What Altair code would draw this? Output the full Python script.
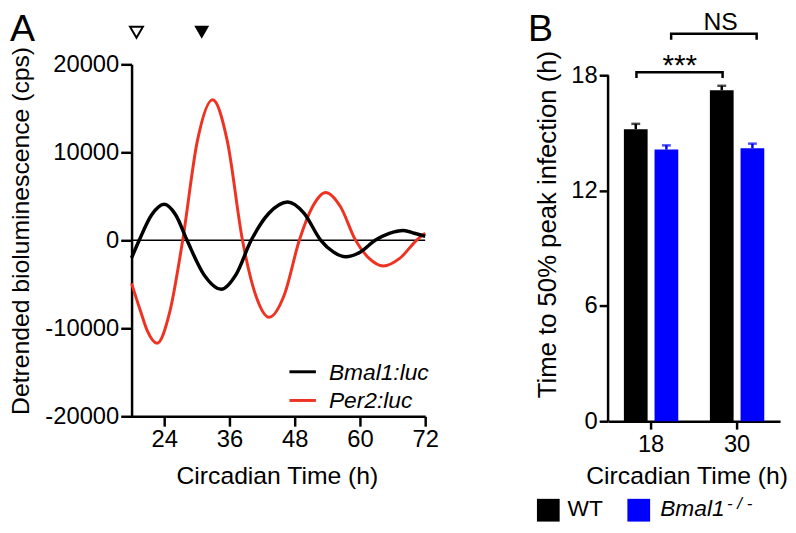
import altair as alt
import pandas as pd

FONT = "Liberation Sans"
RED = "#ee3322"
BLUE = "#0000ff"

# ---------------- Panel A data ----------------
bmal_t = [18.0, 19.4, 21.7, 24.0, 26.1, 28.2, 31.3, 34.5, 37.2, 40.0, 43.3, 46.7,
          49.7, 52.8, 55.1, 57.4, 60.1, 62.8, 65.4, 68.0, 70.0, 72.0]
bmal_v = [-2000, 0, 2900, 4100, 2900, 0, -3900, -5560, -3900, 0, 3100, 4360,
          3100, 0, -1320, -1870, -1320, 0, 790, 1120, 800, 450]

per_t = [18.0, 19.7, 20.9, 22.7, 25.0, 27.4, 30.1, 32.9, 35.6, 38.4, 40.8, 43.3,
         46.1, 48.85, 51.3, 53.7, 56.4, 59.2, 61.7, 64.3, 67.3, 70.4, 72.0]
per_v = [-4900, -8150, -10300, -11700, -8200, 0, 11300, 15980, 11300, 0, -6190, -8750,
         -6190, 0, 3840, 5430, 3840, 0, -2060, -2920, -2060, 0, 820]

a_xticks = [24, 36, 48, 60, 72]
a_yticks = [-20000, -10000, 0, 10000, 20000]
marker_t = [18.9, 30.9]          # open / filled arrowheads
series_names = ["Bmal1:luc", "Per2:luc"]

# ---------------- Panel B data ----------------
ct_groups = ["18", "30"]
genotypes = ["WT", "Bmal1"]
bar_ct = ["18", "18", "30", "30"]
bar_geno = ["WT", "Bmal1", "WT", "Bmal1"]
bar_mean = [15.19, 14.13, 17.22, 14.20]
bar_sem = [0.28, 0.22, 0.23, 0.24]
b_yticks = [0, 6, 12, 18]

# ---------------- Panel A ----------------
AX = alt.Scale(domain=[18, 72], nice=False, zero=False)
AY = alt.Scale(domain=[-20000, 20000], nice=False, zero=False)

x_axis_A = alt.Axis(values=a_xticks, title="Circadian Time (h)", tickSize=10, labelPadding=2,
                    titleX=147, titleY=48.5, labelFontSize=24, titleFontSize=25)
y_axis_A = alt.Axis(values=a_yticks, title=None, tickSize=11,
                    labelPadding=2, labelExpr="'' + datum.value", labelFontSize=24)


def ax(field):
    return alt.X(field, type="quantitative", scale=AX, axis=x_axis_A)


def ay(field):
    return alt.Y(field, type="quantitative", scale=AY, axis=y_axis_A)


df_b = pd.DataFrame({"t": bmal_t, "v": bmal_v})
df_p = pd.DataFrame({"t": per_t, "v": per_v})

zero_line = alt.Chart(pd.DataFrame({"z": [0]})).mark_rule(color="black", strokeWidth=1.5).encode(
    y=ay("z"))

per_line = alt.Chart(df_p).mark_line(color=RED, strokeWidth=3, interpolate="monotone").encode(
    x=ax("t"), y=ay("v"))
bmal_line = alt.Chart(df_b).mark_line(color="black", strokeWidth=3.5, interpolate="monotone").encode(
    x=ax("t"), y=ay("v"))

tri_df = pd.DataFrame({"t": marker_t, "v": [23650, 23650], "kind": ["open", "filled"]})
tri_open = alt.Chart(tri_df).transform_filter("datum.kind == 'open'").mark_point(
    shape="triangle-down", size=170, filled=False, color="black", strokeWidth=2, opacity=1).encode(
    x=ax("t"), y=ay("v"))
tri_fill = alt.Chart(tri_df).transform_filter("datum.kind == 'filled'").mark_point(
    shape="triangle-down", size=225, filled=True, color="black", opacity=1).encode(
    x=ax("t"), y=ay("v"))

leg_df = pd.DataFrame({"name": series_names, "x1": [47.04, 47.04], "x2": [51.9, 51.9],
                       "y": [-14944, -18202], "tx": [54.3, 54.3], "ty": [-15921, -19101]})
leg_line_b = alt.Chart(leg_df).transform_filter("datum.name == 'Bmal1:luc'").mark_rule(
    strokeWidth=3, color="black").encode(x=ax("x1"), x2="x2:Q", y=ay("y"))
leg_line_p = alt.Chart(leg_df).transform_filter("datum.name == 'Per2:luc'").mark_rule(
    strokeWidth=3, color=RED).encode(x=ax("x1"), x2="x2:Q", y=ay("y"))
leg_text = alt.Chart(leg_df).mark_text(align="left", baseline="alphabetic", fontSize=23,
                                       fontStyle="italic", font=FONT, color="black").encode(
    x=ax("tx"), y=ay("ty"), text="name:N")

a_label = alt.Chart(pd.DataFrame({"t": [-4.36], "v": [22697], "s": ["A"]})).mark_text(
    align="left", baseline="alphabetic", fontSize=38, font=FONT, color="black").encode(
    x=ax("t"), y=ay("v"), text="s:N")

a_ytitle = alt.Chart(pd.DataFrame({"t": [-0.91], "v": [1067],
                                   "s": ["Detrended bioluminescence (cps)"]})).mark_text(
    angle=270, align="center", baseline="alphabetic", fontSize=25, font=FONT, color="black").encode(
    x=ax("t"), y=ay("v"), text="s:N")

a_anchor = alt.Chart(pd.DataFrame({"t": [40], "v": [26180]})).mark_point(
    size=1, opacity=0, strokeWidth=0).encode(x=ax("t"), y=ay("v"))

panelA = alt.layer(zero_line, per_line, bmal_line, tri_open, tri_fill, leg_line_b, leg_line_p,
                   leg_text, a_label, a_ytitle, a_anchor).properties(width=297, height=356)

# ---------------- Panel B ----------------
# plot area runs 11 px higher than the 18 h tick so that it can share the row top with panel A
BY = alt.Scale(domain=[0, 18 * 361 / 350], nice=False, zero=False)
QX = alt.Scale(domain=[12, 36], nice=False, zero=False)   # 18 and 30 at band centres
y_axis_B = alt.Axis(values=b_yticks, title=None, tickSize=9, labelPadding=2, labelFontSize=24,
                    domain=False)


def by(field):
    return alt.Y(field, type="quantitative", scale=BY, axis=y_axis_B)


def qx(field):
    return alt.X(field, type="quantitative", scale=QX, axis=None)


df_bar = pd.DataFrame({"ct": bar_ct, "geno": bar_geno, "mean": bar_mean, "sem": bar_sem})
xB = alt.X("ct:N", scale=alt.Scale(domain=ct_groups, paddingInner=0, paddingOuter=0),
           axis=alt.Axis(title="Circadian Time (h)", labelAngle=0, tickSize=8, labelPadding=4,
                         titleX=79.5, titleY=42.8, labelFontSize=24, titleFontSize=25))
xoffB = alt.XOffset("geno:N", scale=alt.Scale(domain=genotypes, paddingInner=0.226, paddingOuter=0.516))
colB = alt.Color("geno:N", scale=alt.Scale(domain=genotypes, range=["black", BLUE]), legend=None)

bars = alt.Chart(df_bar).mark_bar().encode(x=xB, xOffset=xoffB, y=by("mean"), color=colB)
err = alt.Chart(df_bar).transform_calculate(up="datum.mean + datum.sem").mark_rule(strokeWidth=2.5).encode(
    x=xB, xOffset=xoffB, y=by("mean"), y2="up:Q", color=colB)
caps = alt.Chart(df_bar).transform_calculate(up="datum.mean + datum.sem").mark_tick(
    size=9, thickness=2.5, orient="horizontal").encode(
    x=xB, xOffset=xoffB, y=by("up"), color=colB)

bars_layer = alt.layer(bars, err, caps)

# y axis line of panel B (0 to 18 only)
b_axis_line = alt.Chart(pd.DataFrame({"x": [12], "y0": [0], "y1": [18]})).mark_rule(
    color="black", strokeWidth=2.5).encode(x=qx("x"), y=by("y0"), y2="y1:Q")

br_df = pd.DataFrame({
    "b": ["s"] * 4 + ["n"] * 4,
    "o": [0, 1, 2, 3, 0, 1, 2, 3],
    "x": [15.96, 15.96, 27.98, 27.98, 20.8, 20.8, 32.73, 32.73],
    "y": [17.85, 18.15, 18.15, 17.85, 19.85, 20.16, 20.16, 19.85]})
brackets = alt.Chart(br_df).mark_line(color="black", strokeWidth=2.5, strokeJoin="miter").encode(
    x=qx("x"), y=by("y"), detail="b:N", order="o:Q")

stars = alt.Chart(pd.DataFrame({"x": [22.0], "y": [17.99], "s": ["***"]})).mark_text(
    align="center", baseline="alphabetic", fontSize=30, font=FONT, color="black").encode(
    x=qx("x"), y=by("y"), text="s:N")
ns = alt.Chart(pd.DataFrame({"x": [27.7], "y": [20.36], "s": ["NS"]})).mark_text(
    align="center", baseline="alphabetic", fontSize=25, font=FONT, color="black").encode(
    x=qx("x"), y=by("y"), text="s:N")
b_label = alt.Chart(pd.DataFrame({"x": [0.83], "y": [19.80], "s": ["B"]})).mark_text(
    align="left", baseline="alphabetic", fontSize=38, font=FONT, color="black").encode(
    x=qx("x"), y=by("y"), text="s:N")
b_ytitle = alt.Chart(pd.DataFrame({"x": [4.69], "y": [10.23],
                                   "s": ["Time to 50% peak infection (h)"]})).mark_text(
    angle=270, align="center", baseline="alphabetic", fontSize=26, font=FONT, color="black").encode(
    x=qx("x"), y=by("y"), text="s:N")

lg_df = pd.DataFrame({"geno": genotypes, "sx": [3.66, 16.28], "sy": [-4.63, -4.63],
                      "tx": [6.34, 19.27], "ty": [-4.94, -4.94], "lab": ["WT", "Bmal1"]})
lg_sq = alt.Chart(lg_df).mark_point(shape="square", size=529, filled=True, opacity=1).encode(
    x=qx("sx"), y=by("sy"), color=colB)
lg_wt = alt.Chart(lg_df).transform_filter("datum.lab == 'WT'").mark_text(
    align="left", baseline="alphabetic", fontSize=23, font=FONT, color="black").encode(
    x=qx("tx"), y=by("ty"), text="lab:N")
lg_bm = alt.Chart(lg_df).transform_filter("datum.lab == 'Bmal1'").mark_text(
    align="left", baseline="alphabetic", fontSize=23, fontStyle="italic", font=FONT, color="black").encode(
    x=qx("tx"), y=by("ty"), text="lab:N")
lg_sup = alt.Chart(pd.DataFrame({"x": [28.6], "y": [-4.55], "s": ["- / -"]})).mark_text(
    align="left", baseline="alphabetic", fontSize=17, fontStyle="italic", font=FONT, color="black").encode(
    x=qx("x"), y=by("y"), text="s:N")

b_anchor = alt.Chart(pd.DataFrame({"x": [24], "y": [21.395]})).mark_point(
    size=1, opacity=0, strokeWidth=0).encode(x=qx("x"), y=by("y"))

panelB = alt.layer(bars_layer, b_axis_line, brackets, stars, ns, b_label, b_ytitle, lg_sq, lg_wt,
                   lg_bm, lg_sup, b_anchor).resolve_scale(x="independent").properties(width=174, height=361)

chart = alt.concat(panelA, panelB, columns=2, align="none", spacing=90).resolve_scale(
    color="independent").properties(
    padding={"left": 0, "top": -2, "right": 0, "bottom": 0}
).configure(font=FONT).configure_view(stroke=None).configure_axis(
    grid=False, domainColor="black", domainWidth=2.5, tickColor="black", tickWidth=2.5,
    labelColor="black", titleColor="black", labelFont=FONT, titleFont=FONT,
    titleFontWeight="normal", labelFlush=False, labelOverlap=False)

chart.save("out.html", embed_options={"renderer": "svg", "actions": False})
